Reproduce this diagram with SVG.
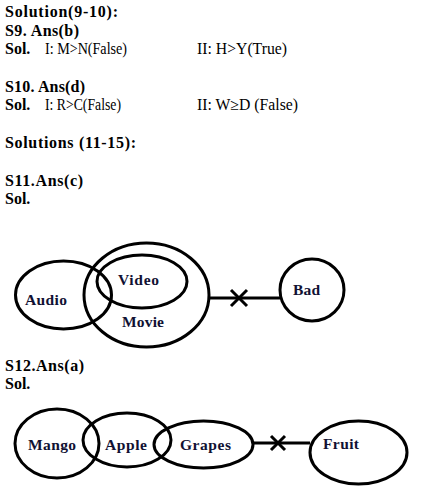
<svg xmlns="http://www.w3.org/2000/svg" width="421" height="500" viewBox="0 0 421 500">
<style>
text{font-family:"Liberation Serif","DejaVu Serif",serif;fill:#000}
.h{font-size:16px;font-weight:bold}
.r{font-size:16px;font-weight:normal}
.lb{font-size:15.5px;font-weight:bold;fill:#111133}
.s{fill:none;stroke:#000;stroke-width:3}
</style>
<rect width="421" height="500" fill="#fff"/>
<g id="text">
<text class="h" x="5" y="17" textLength="113">Solution(9-10):</text>
<text class="h" x="5" y="36" textLength="74">S9. Ans(b)</text>
<text class="h" x="5" y="54">Sol.</text>
<text class="r" x="45" y="54" textLength="82" lengthAdjust="spacingAndGlyphs">I: M&gt;N(False)</text>
<text class="r" x="197" y="54" textLength="90" lengthAdjust="spacingAndGlyphs">II: H&gt;Y(True)</text>
<text class="h" x="5" y="92" textLength="80">S10. Ans(d)</text>
<text class="h" x="5" y="110">Sol.</text>
<text class="r" x="45" y="110" textLength="76" lengthAdjust="spacingAndGlyphs">I: R&gt;C(False)</text>
<text class="r" x="197" y="110" textLength="101" lengthAdjust="spacingAndGlyphs">II: W≥D (False)</text>
<text class="h" x="5" y="148" textLength="131">Solutions (11-15):</text>
<text class="h" x="5" y="186" textLength="78">S11.Ans(c)</text>
<text class="h" x="5" y="204">Sol.</text>
<text class="h" x="5" y="371" textLength="79">S12.Ans(a)</text>
<text class="h" x="5" y="389">Sol.</text>
</g>
<g id="connectors">
<line class="s" x1="209" y1="298" x2="280" y2="298"/>
<path class="s" d="M231 290 L247 306 M247 290 L231 306"/>
<line class="s" x1="253" y1="443" x2="310" y2="443"/>
<path class="s" d="M271 436 L285 450 M285 436 L271 450"/>
</g>
<g id="audio"><ellipse class="s" cx="63.5" cy="295" rx="48" ry="34"/><text class="lb" x="25" y="305" textLength="42">Audio</text></g>
<g id="movie"><ellipse class="s" cx="146.5" cy="295" rx="62.5" ry="52"/><text class="lb" x="122" y="327" textLength="42">Movie</text></g>
<g id="video"><ellipse class="s" cx="142" cy="281.5" rx="45" ry="26.5"/><text class="lb" x="118" y="285" textLength="41">Video</text></g>
<g id="bad"><ellipse class="s" cx="312" cy="290" rx="32" ry="31"/><text class="lb" x="293" y="295" textLength="27">Bad</text></g>
<g id="mango"><ellipse class="s" cx="57" cy="443.5" rx="42" ry="34.5"/><text class="lb" x="28" y="450" textLength="48">Mango</text></g>
<g id="apple"><ellipse class="s" cx="127" cy="440" rx="44" ry="27"/><text class="lb" x="105" y="450" textLength="42">Apple</text></g>
<g id="grapes"><ellipse class="s" cx="203.5" cy="444.5" rx="49.5" ry="23.5"/><text class="lb" x="180" y="450" textLength="51">Grapes</text></g>
<g id="fruit"><ellipse class="s" cx="358.5" cy="452.5" rx="48.5" ry="31.5"/><text class="lb" x="323" y="449" textLength="36">Fruit</text></g>
</svg>
